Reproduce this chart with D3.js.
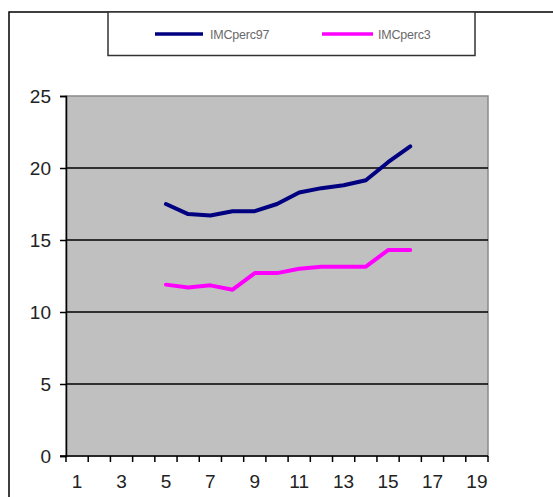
<!DOCTYPE html>
<html>
<head>
<meta charset="utf-8">
<script src="https://cdn.jsdelivr.net/npm/d3@7/dist/d3.min.js"></script>
<style>
  html, body { margin: 0; padding: 0; background: #fff; }
  svg { display: block; font-family: "Liberation Sans", Arial, sans-serif; }
</style>
</head>
<body>
<svg id="chart" width="553" height="497"></svg>
<script>
// Categories (ages 1..19) and the two percentile series
const categories = d3.range(1, 20);
const seriesNames = ["IMCperc97", "IMCperc3"];
const seriesColors = ["#000080", "#ff00ff"];
const xValues = [5, 6, 7, 8, 9, 10, 11, 12, 13, 14, 15, 16];
const perc97 = [17.5, 16.8, 16.7, 17.0, 17.0, 17.5, 18.3, 18.6, 18.8, 19.15, 20.4, 21.5];
const perc3 = [11.9, 11.7, 11.85, 11.55, 12.7, 12.7, 13.0, 13.15, 13.15, 13.15, 14.3, 14.3];
const yTicks = [0, 5, 10, 15, 20, 25];
const xTickLabels = [1, 3, 5, 7, 9, 11, 13, 15, 17, 19];

const svg = d3.select("#chart");

// outer chart frame (runs off the right and bottom edges)
svg.append("rect")
  .attr("x", 9).attr("y", 12)
  .attr("width", 560).attr("height", 500)
  .attr("fill", "#fff").attr("stroke", "#000").attr("stroke-width", 1.5);

const plot = { left: 66, right: 488, top: 96, bottom: 456 };

const x = d3.scaleBand().domain(categories).range([plot.left, plot.right]);
const y = d3.scaleLinear().domain([0, 25]).range([plot.bottom, plot.top]);

// plot area
svg.append("rect")
  .attr("x", plot.left).attr("y", plot.top)
  .attr("width", plot.right - plot.left).attr("height", plot.bottom - plot.top)
  .attr("fill", "#c0c0c0").attr("stroke", "#8a8a8a").attr("stroke-width", 1.5);

// horizontal gridlines
svg.append("g")
  .selectAll("line")
  .data(yTicks.filter(t => t > 0 && t < 25))
  .join("line")
  .attr("x1", plot.left).attr("x2", plot.right)
  .attr("y1", d => y(d)).attr("y2", d => y(d))
  .attr("stroke", "#000").attr("stroke-width", 1.5);

// y axis
const yAxis = svg.append("g")
  .attr("transform", `translate(${plot.left},0)`)
  .call(d3.axisLeft(y).tickValues(yTicks).tickSize(6).tickPadding(9));
yAxis.select(".domain").attr("stroke", "#000").attr("stroke-width", 1.5);
yAxis.selectAll(".tick line").attr("stroke", "#000").attr("stroke-width", 1.5);
yAxis.selectAll(".tick text")
  .attr("font-size", 19).attr("fill", "#222")
  .attr("font-family", "Liberation Sans, Arial, sans-serif");

// x axis: ticks on category boundaries, labels on every other category
const xg = svg.append("g").attr("transform", `translate(0,${plot.bottom})`);
xg.append("line")
  .attr("x1", plot.left - 6).attr("x2", plot.right)
  .attr("stroke", "#000").attr("stroke-width", 1.5);
const boundaries = categories.map(c => x(c)).concat([x(categories[categories.length - 1]) + x.bandwidth()]);
xg.selectAll("line.tk")
  .data(boundaries)
  .join("line").attr("class", "tk")
  .attr("x1", d => d).attr("x2", d => d)
  .attr("y1", 0).attr("y2", 6)
  .attr("stroke", "#000").attr("stroke-width", 1.5);
xg.selectAll("text")
  .data(xTickLabels)
  .join("text")
  .attr("x", d => x(d) + x.bandwidth() / 2)
  .attr("y", 32)
  .attr("text-anchor", "middle")
  .attr("font-size", 19).attr("fill", "#222")
  .text(d => d);

// series lines
const line = d3.line()
  .x((d, i) => x(xValues[i]) + x.bandwidth() / 2)
  .y(d => y(d));

[perc97, perc3].forEach((vals, i) => {
  svg.append("path")
    .datum(vals)
    .attr("d", line)
    .attr("fill", "none")
    .attr("stroke", seriesColors[i])
    .attr("stroke-width", 4)
    .attr("stroke-linejoin", "round")
    .attr("stroke-linecap", "round");
});

// legend
svg.append("rect")
  .attr("x", 108).attr("y", 12)
  .attr("width", 367).attr("height", 43.5)
  .attr("fill", "#fff").attr("stroke", "#333").attr("stroke-width", 1.5);

const legendItems = [
  { x1: 155, x2: 203, tx: 210 },
  { x1: 322, x2: 373, tx: 378 }
];
legendItems.forEach((it, i) => {
  svg.append("line")
    .attr("x1", it.x1).attr("x2", it.x2)
    .attr("y1", 34).attr("y2", 34)
    .attr("stroke", seriesColors[i]).attr("stroke-width", 3.5);
  svg.append("text")
    .attr("x", it.tx).attr("y", 38.5)
    .attr("font-size", 12.5).attr("fill", "#6a6a6a")
    .attr("letter-spacing", -0.2)
    .text(seriesNames[i]);
});
</script>
</body>
</html>
